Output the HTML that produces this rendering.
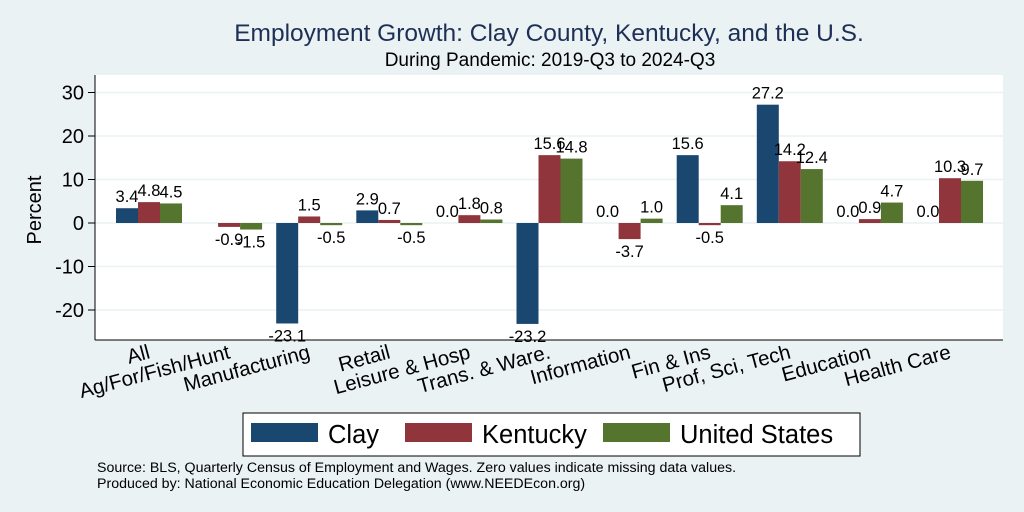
<!DOCTYPE html>
<html><head><meta charset="utf-8"><style>
body{margin:0;width:1024px;height:512px;background:#eaf2f3;font-family:"Liberation Sans",sans-serif;overflow:hidden}
svg{display:block}
</style></head><body>
<svg width="1024" height="512">
<text x="549" y="41" font-size="24.5" fill="#1e2f55" text-anchor="middle">Employment Growth: Clay County, Kentucky, and the U.S.</text>
<text x="550" y="66" font-size="19" fill="#000" text-anchor="middle">During Pandemic: 2019-Q3 to 2024-Q3</text>
<rect x="95" y="75" width="908" height="265" fill="#fff"/>
<g id="grid"></g>
<g id="bars"></g>
<line x1="95" y1="75" x2="95" y2="340" stroke="#000"/>
<line x1="95" y1="340" x2="1003" y2="340" stroke="#000"/>
<text transform="translate(41,210) rotate(-90)" font-size="20" text-anchor="middle">Percent</text>
<g>
<rect x="243" y="413" width="617" height="43" fill="#fff" stroke="#000"/>
<rect x="251" y="423" width="67" height="19" fill="#1a476f"/>
<text x="328" y="443" font-size="25.5">Clay</text>
<rect x="405" y="423" width="67" height="19" fill="#90353b"/>
<text x="482" y="443" font-size="25.5">Kentucky</text>
<rect x="603" y="423" width="67" height="19" fill="#55752f"/>
<text x="680" y="443" font-size="25.5">United States</text>
</g>
<text x="97" y="472" font-size="14.2">Source: BLS, Quarterly Census of Employment and Wages. Zero values indicate missing data values.</text>
<text x="97" y="488" font-size="14.2">Produced by: National Economic Education Delegation (www.NEEDEcon.org)</text>
</svg>
<script>
const categories=["All","Ag/For/Fish/Hunt","Manufacturing","Retail","Leisure & Hosp","Trans. & Ware.","Information","Fin & Ins","Prof, Sci, Tech","Education","Health Care"];
const clay=[3.4,0.0,-23.1,2.9,0.0,-23.2,0.0,15.6,27.2,0.0,0.0];
const kentucky=[4.8,-0.9,1.5,0.7,1.8,15.6,-3.7,-0.5,14.2,0.9,10.3];
const us=[4.5,-1.5,-0.5,-0.5,0.8,14.8,1.0,4.1,12.4,4.7,9.7];
const yTicks=[-20,-10,0,10,20,30];
const series=[{n:"clay",v:clay,c:"#1a476f"},{n:"kentucky",v:kentucky,c:"#90353b"},{n:"us",v:us,c:"#55752f"}];
const NS="http://www.w3.org/2000/svg";
const y=v=>223-v*4.35;
const gx=i=>116+i*80.1;
const bw=22;
const svg=document.querySelector('svg');
const grid=document.getElementById('grid');
yTicks.forEach(t=>{
 const l=document.createElementNS(NS,'line');
 l.setAttribute('x1',95);l.setAttribute('x2',1003);l.setAttribute('y1',y(t));l.setAttribute('y2',y(t));
 l.setAttribute('stroke','#eaf2f3');l.setAttribute('stroke-width','1.5');
 
 
 grid.appendChild(l);
 const tk=document.createElementNS(NS,'line');
 tk.setAttribute('x1',88);tk.setAttribute('x2',95);tk.setAttribute('y1',y(t));tk.setAttribute('y2',y(t));tk.setAttribute('stroke','#000');
 
 
 grid.appendChild(tk);
 const tx=document.createElementNS(NS,'text');
 tx.setAttribute('x',84);tx.setAttribute('y',y(t)+7);tx.setAttribute('text-anchor','end');tx.setAttribute('font-size','20');
 tx.textContent=t;
 
 
 grid.appendChild(tx);
});
const bars=document.getElementById('bars');
categories.forEach((c,i)=>{
 series.forEach((s,j)=>{
  const v=s.v[i];const x=gx(i)+j*bw;
  const r=document.createElementNS(NS,'rect');
  r.setAttribute('x',x);r.setAttribute('width',bw);
  r.setAttribute('y',Math.min(y(v),y(0)));r.setAttribute('height',Math.abs(y(v)-y(0)));
  r.setAttribute('fill',s.c);
  
  
  bars.appendChild(r);
  if(i===1&&j===0)return;
  const t=document.createElementNS(NS,'text');
  t.setAttribute('x',x+bw/2);t.setAttribute('text-anchor','middle');t.setAttribute('font-size','16.5');
  t.setAttribute('y',v>=0?y(v)-6:y(v)+18);
  t.textContent=v.toFixed(1);
  
  
  bars.appendChild(t);
 });
 const lt=document.createElementNS(NS,'text');
 const cx=gx(i)+bw*1.5+2;
 lt.setAttribute('transform','translate('+cx+',358) rotate(-15)');
 lt.setAttribute('text-anchor','end');lt.setAttribute('font-size','20.5');
 lt.textContent=c;
 
 
 svg.appendChild(lt);
});
</script>
</body></html>
